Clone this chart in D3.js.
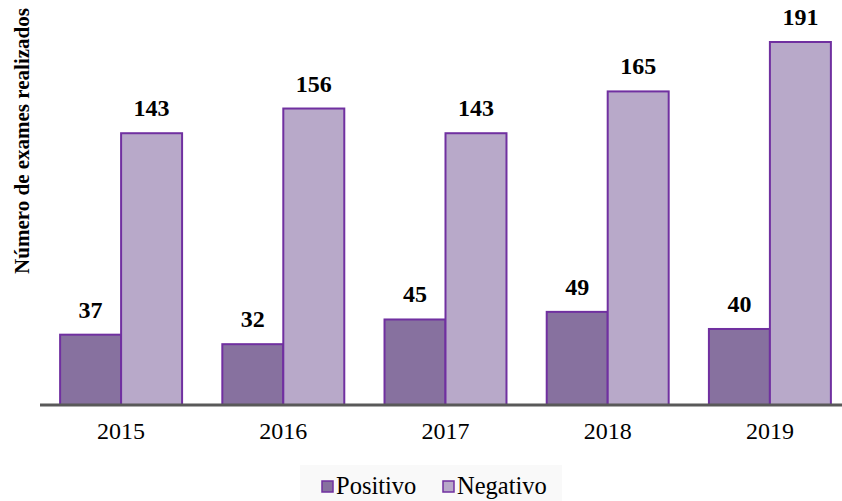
<!DOCTYPE html>
<html>
<head>
<meta charset="utf-8">
<script src="https://cdn.jsdelivr.net/npm/d3@7"></script>
<style>
  body { margin: 0; background: #fff; }
  svg { display: block; font-family: "Liberation Serif", "Times New Roman", serif; }
</style>
</head>
<body>
<script>
// dados
const anos = ["2015", "2016", "2017", "2018", "2019"];
const series = ["Positivo", "Negativo"];
const positivo = [37, 32, 45, 49, 40];
const negativo = [143, 156, 143, 165, 191];
const cores = { Positivo: "#87719f", Negativo: "#b8a9c9" };

const W = 842, H = 501;
const baseY = 405;

const svg = d3.select("body").append("svg")
    .attr("width", W).attr("height", H);

// fundo da legenda
svg.append("rect")
    .attr("x", 300).attr("y", 465).attr("width", 262).attr("height", 36)
    .attr("fill", "#f9f9f9");

const x = d3.scaleBand()
    .domain(anos)
    .range([40, 851])
    .paddingInner(0.248)
    .paddingOuter(0.124);

const xs = d3.scaleBand()
    .domain(series)
    .range([0, x.bandwidth()]);

const y = d3.scaleLinear()
    .domain([0, 191])
    .range([baseY, 42]);

const dados = anos.map((a, i) => ({ ano: a, Positivo: positivo[i], Negativo: negativo[i] }));

const grupos = svg.selectAll("g.grupo")
    .data(dados)
    .enter().append("g")
    .attr("class", "grupo")
    .attr("transform", d => `translate(${x(d.ano)},0)`);

grupos.selectAll("rect")
    .data(d => series.map(s => ({ s, v: d[s] })))
    .enter().append("rect")
    .attr("x", d => xs(d.s))
    .attr("y", d => y(d.v))
    .attr("width", xs.bandwidth())
    .attr("height", d => baseY - y(d.v))
    .attr("fill", d => cores[d.s])
    .attr("stroke", "#7030a0")
    .attr("stroke-width", 2);

grupos.selectAll("text.valor")
    .data(d => series.map(s => ({ s, v: d[s] })))
    .enter().append("text")
    .attr("class", "valor")
    .attr("x", d => xs(d.s) + xs.bandwidth() / 2)
    .attr("y", d => y(d.v) - 17)
    .attr("text-anchor", "middle")
    .attr("font-size", 24)
    .attr("font-weight", "bold")
    .text(d => d.v);

// eixo x
const eixo = svg.append("g")
    .attr("transform", `translate(0,${baseY})`)
    .call(d3.axisBottom(x).tickSize(0).tickPadding(17));
eixo.select(".domain").attr("stroke", "#595959").attr("stroke-width", 3)
    .attr("d", "M40,0H842");
eixo.selectAll("text")
    .attr("font-family", "Liberation Serif, Times New Roman, serif")
    .attr("font-size", 24).attr("fill", "#000");

// título y
svg.append("text")
    .attr("transform", "translate(29,141) rotate(-90)")
    .attr("text-anchor", "middle")
    .attr("font-size", 21)
    .attr("font-weight", "bold")
    .text("Número de exames realizados");

// legenda
const leg = svg.append("g");
const legPos = [{ s: "Positivo", x: 322 }, { s: "Negativo", x: 443 }];
legPos.forEach(p => {
  leg.append("rect")
    .attr("x", p.x).attr("y", 481).attr("width", 11).attr("height", 11)
    .attr("fill", cores[p.s]).attr("stroke", "#7030a0").attr("stroke-width", 1.5);
  leg.append("text")
    .attr("x", p.x + 14).attr("y", 494)
    .attr("font-size", 24.5)
    .text(p.s);
});
</script>
</body>
</html>
